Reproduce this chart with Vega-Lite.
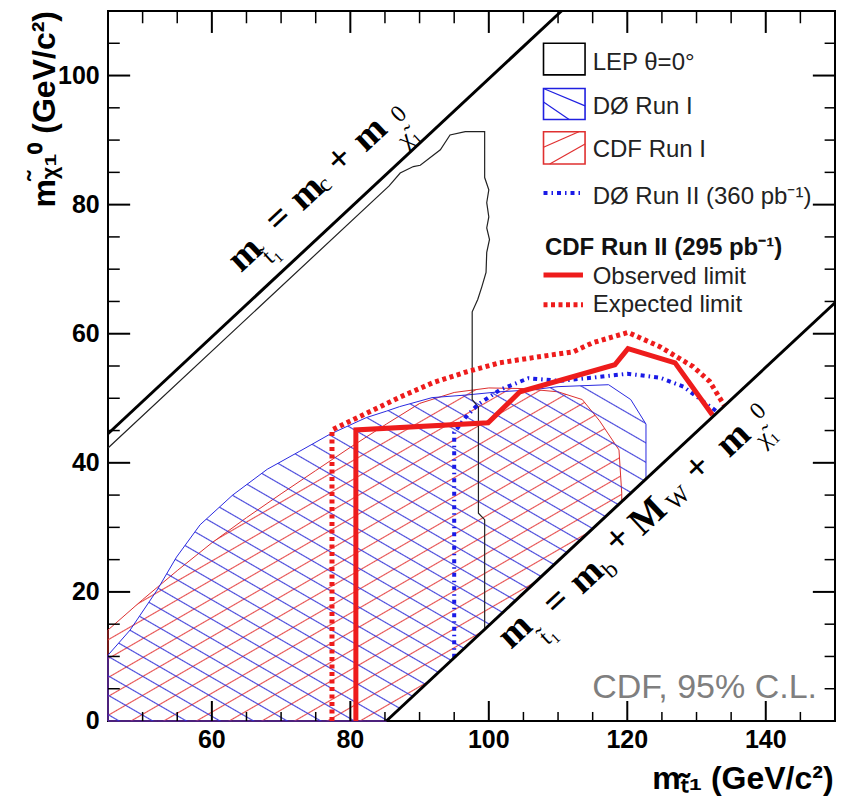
{
  "$schema": "https://vega.github.io/schema/vega-lite/v6.json",
  "width": 727,
  "height": 710,
  "autosize": {"type": "none"},
  "padding": {"left": 108, "top": 11, "right": 8, "bottom": 84},
  "background": "white",
  "config": {
    "view": {"stroke": "#000", "strokeWidth": 2}
  },
  "datasets": {
    "cdfRunI": [
      {"x": 45, "y": 14.1, "y2": 0}, {"x": 50, "y": 18.8, "y2": 0}, {"x": 55, "y": 23.3, "y2": 0},
      {"x": 60, "y": 27.6, "y2": 0}, {"x": 65, "y": 31.5, "y2": 0}, {"x": 70, "y": 35.2, "y2": 0},
      {"x": 75, "y": 38.8, "y2": 0}, {"x": 80, "y": 42.4, "y2": 0}, {"x": 85.2, "y": 46.0, "y2": 0},
      {"x": 90, "y": 49.2, "y2": 4.8}, {"x": 95, "y": 50.9, "y2": 9.8}, {"x": 100, "y": 51.6, "y2": 14.8},
      {"x": 105, "y": 51.5, "y2": 19.8}, {"x": 110, "y": 51.0, "y2": 24.8}, {"x": 113.5, "y": 49.8, "y2": 28.3},
      {"x": 116, "y": 46.5, "y2": 30.8}, {"x": 118.8, "y": 42.0, "y2": 33.6}, {"x": 119.2, "y": 35.3, "y2": 34.0}
    ],
    "d0RunI": [
      {"x": 45, "y": 10.2, "y2": 0}, {"x": 48.2, "y": 14.1, "y2": 0}, {"x": 52.1, "y": 20.3, "y2": 0},
      {"x": 54.9, "y": 25.4, "y2": 0}, {"x": 58.3, "y": 30.4, "y2": 0}, {"x": 63, "y": 35.0, "y2": 0},
      {"x": 68, "y": 39.0, "y2": 0}, {"x": 72.7, "y": 41.8, "y2": 0}, {"x": 77, "y": 44.4, "y2": 0},
      {"x": 82.3, "y": 47.0, "y2": 0}, {"x": 85.2, "y": 48.0, "y2": 0}, {"x": 87.1, "y": 48.7, "y2": 1.9},
      {"x": 91.8, "y": 50.1, "y2": 6.6}, {"x": 96.7, "y": 50.5, "y2": 11.5}, {"x": 101.5, "y": 51.0, "y2": 16.3},
      {"x": 106.2, "y": 51.3, "y2": 21.0}, {"x": 110, "y": 51.8, "y2": 24.8}, {"x": 117.3, "y": 52.1, "y2": 32.1},
      {"x": 120.5, "y": 49.8, "y2": 35.3}, {"x": 122.7, "y": 46.0, "y2": 37.5}
    ],
    "lep": [
      {"x": 45, "y": 42.3}, {"x": 85.6, "y": 82.9}, {"x": 87.2, "y": 84.9}, {"x": 89.1, "y": 85.9},
      {"x": 90.1, "y": 86.1}, {"x": 93.0, "y": 88.5}, {"x": 94.4, "y": 90.8}, {"x": 96.6, "y": 91.3},
      {"x": 99.4, "y": 91.3}, {"x": 99.4, "y": 84.2}, {"x": 100.0, "y": 82.3}, {"x": 99.7, "y": 80.3},
      {"x": 100.0, "y": 78.1}, {"x": 99.7, "y": 76.4}, {"x": 100.1, "y": 74.6}, {"x": 99.7, "y": 72.6},
      {"x": 99.6, "y": 69.5}, {"x": 99.0, "y": 67.3}, {"x": 98.4, "y": 65.3}, {"x": 97.6, "y": 63.4},
      {"x": 97.6, "y": 49.8}, {"x": 98.5, "y": 48.6}, {"x": 98.5, "y": 32.2}, {"x": 99.4, "y": 31.2},
      {"x": 99.4, "y": 14.2}
    ],
    "d0RunII": [
      {"x": 95.0, "y": 9.8}, {"x": 95.0, "y": 44.7}, {"x": 96.6, "y": 47.0}, {"x": 98.4, "y": 49.0},
      {"x": 101.6, "y": 51.3}, {"x": 105.7, "y": 53.1}, {"x": 110.3, "y": 52.7}, {"x": 115.0, "y": 53.2},
      {"x": 120.0, "y": 53.8}, {"x": 124.7, "y": 53.2}, {"x": 128.1, "y": 51.8}, {"x": 130.6, "y": 49.8},
      {"x": 133.0, "y": 47.9}
    ],
    "expected": [
      {"x": 77.35, "y": 0}, {"x": 77.35, "y": 45.1}, {"x": 82.4, "y": 47.7}, {"x": 87.2, "y": 50.2},
      {"x": 91.9, "y": 52.4}, {"x": 96.8, "y": 54.1}, {"x": 101.6, "y": 55.5}, {"x": 106.4, "y": 56.3},
      {"x": 112.2, "y": 57.2}, {"x": 115.0, "y": 58.6}, {"x": 120.1, "y": 60.2}, {"x": 124.7, "y": 58.0},
      {"x": 129.5, "y": 54.9}, {"x": 131.9, "y": 52.6}, {"x": 134.0, "y": 48.9}
    ],
    "observed": [
      {"x": 80.8, "y": 0}, {"x": 80.8, "y": 45.1}, {"x": 99.9, "y": 46.2}, {"x": 104.5, "y": 51.0},
      {"x": 118.2, "y": 55.2}, {"x": 120.1, "y": 57.7}, {"x": 126.9, "y": 55.5}, {"x": 132.3, "y": 47.4}
    ],
    "kinematic": [
      {"x": 45, "y": 44.5, "x2": 110.5, "y2": 110},
      {"x": 85.2, "y": 0, "x2": 150, "y2": 64.8}
    ],
    "xMajorTicks": [{"x": 60}, {"x": 80}, {"x": 100}, {"x": 120}, {"x": 140}],
    "xMinorTicks": [
      {"x": 50}, {"x": 55}, {"x": 65}, {"x": 70}, {"x": 75}, {"x": 85}, {"x": 90}, {"x": 95},
      {"x": 105}, {"x": 110}, {"x": 115}, {"x": 125}, {"x": 130}, {"x": 135}, {"x": 145}
    ],
    "yMajorTicks": [{"y": 20}, {"y": 40}, {"y": 60}, {"y": 80}, {"y": 100}],
    "yMinorTicks": [
      {"y": 5}, {"y": 10}, {"y": 15}, {"y": 25}, {"y": 30}, {"y": 35}, {"y": 45}, {"y": 50},
      {"y": 55}, {"y": 65}, {"y": 70}, {"y": 75}, {"y": 85}, {"y": 90}, {"y": 95}, {"y": 105}
    ],
    "xTickLabels": [
      {"x": 60, "y": -1.1, "t": "60"}, {"x": 80, "y": -1.1, "t": "80"}, {"x": 100, "y": -1.1, "t": "100"},
      {"x": 120, "y": -1.1, "t": "120"}, {"x": 140, "y": -1.1, "t": "140"}
    ],
    "yTickLabels": [
      {"x": 43.8, "y": 0, "t": "0"}, {"x": 43.8, "y": 20, "t": "20"}, {"x": 43.8, "y": 40, "t": "40"},
      {"x": 43.8, "y": 60, "t": "60"}, {"x": 43.8, "y": 80, "t": "80"}, {"x": 43.8, "y": 100, "t": "100"}
    ],
    "xTitle": [{"x": 149.8, "y": -10.6, "t": "mₜ̃₁ (GeV/c²)"}],
    "yTitle": [{"x": 37.4, "y": 110, "t": "mᵪ̃₁⁰ (GeV/c²)"}],
    "formulaMain": [
      {"x": 64.8, "y": 72.3, "t": "m"}, {"x": 69.7, "y": 77.8, "t": "="}, {"x": 73.7, "y": 81.8, "t": "m"},
      {"x": 78.5, "y": 87.0, "t": "+"}, {"x": 82.8, "y": 90.9, "t": "m"},
      {"x": 103.8, "y": 13.9, "t": "m"}, {"x": 109.8, "y": 18.5, "t": "="}, {"x": 114.1, "y": 22.4, "t": "m"},
      {"x": 118.7, "y": 28.1, "t": "+"}, {"x": 123.0, "y": 31.7, "t": "M"}, {"x": 130.2, "y": 39.2, "t": "+"},
      {"x": 135.3, "y": 43.6, "t": "m"}
    ],
    "formulaSub": [
      {"x": 68.6, "y": 72.3, "t": "t̃₁"}, {"x": 76.3, "y": 83.1, "t": "c"}, {"x": 88.4, "y": 90.5, "t": "χ̃₁"},
      {"x": 87.0, "y": 94.0, "t": "0"},
      {"x": 108.6, "y": 13.3, "t": "t̃₁"}, {"x": 117.6, "y": 23.4, "t": "b"}, {"x": 127.4, "y": 34.5, "t": "W"},
      {"x": 140.1, "y": 44.1, "t": "χ̃₁"}, {"x": 138.9, "y": 48.0, "t": "0"}
    ],
    "note": [{"x": 147.4, "y": 3.6, "t": "CDF, 95% C.L."}],
    "legendBoxes": [
      {"x": 107.9, "y": 100.1, "x2": 113.9, "y2": 105.0, "s": "LEP"},
      {"x": 107.9, "y": 93.2, "x2": 113.9, "y2": 98.0, "s": "D0"},
      {"x": 107.9, "y": 86.3, "x2": 113.9, "y2": 91.3, "s": "CDF"}
    ],
    "legendHatch": [
      {"x": 107.9, "y": 98.0, "x2": 113.9, "y2": 95.3, "s": "D0"},
      {"x": 107.9, "y": 95.9, "x2": 111.6, "y2": 93.2, "s": "D0"},
      {"x": 107.9, "y": 88.9, "x2": 113.0, "y2": 91.3, "s": "CDF"},
      {"x": 108.8, "y": 86.3, "x2": 113.9, "y2": 89.4, "s": "CDF"}
    ],
    "legendLines": [
      {"x": 107.9, "x2": 113.6, "y": 81.8, "s": "d0II"},
      {"x": 107.9, "x2": 113.6, "y": 69.1, "s": "obs"},
      {"x": 107.9, "x2": 113.6, "y": 64.5, "s": "exp"}
    ],
    "legendText": [
      {"x": 115.0, "y": 101.9, "t": "LEP θ=0°"},
      {"x": 115.0, "y": 95.2, "t": "DØ Run I"},
      {"x": 115.0, "y": 88.5, "t": "CDF Run I"},
      {"x": 115.0, "y": 81.2, "t": "DØ Run II (360 pb⁻¹)"},
      {"x": 115.0, "y": 68.8, "t": "Observed limit"},
      {"x": 115.0, "y": 64.5, "t": "Expected limit"}
    ],
    "legendHeader": [{"x": 108.1, "y": 73.3, "t": "CDF Run II (295 pb⁻¹)"}]
  },
  "layer": [
    {
      "data": {"name": "cdfRunI"},
      "mark": {
        "type": "area",
        "stroke": "#dd3030",
        "strokeWidth": 1,
        "fill": {
          "gradient": "linear", "x1": 0, "y1": 0, "x2": 0.9391, "y2": 1.0542,
          "stops": [
            {"offset": 0.008, "color": "rgba(228,60,60,0)"}, {"offset": 0.010, "color": "rgba(228,60,60,0.9)"}, {"offset": 0.012, "color": "rgba(228,60,60,0)"},
            {"offset": 0.038, "color": "rgba(228,60,60,0)"}, {"offset": 0.040, "color": "rgba(228,60,60,0.9)"}, {"offset": 0.042, "color": "rgba(228,60,60,0)"},
            {"offset": 0.068, "color": "rgba(228,60,60,0)"}, {"offset": 0.070, "color": "rgba(228,60,60,0.9)"}, {"offset": 0.072, "color": "rgba(228,60,60,0)"},
            {"offset": 0.098, "color": "rgba(228,60,60,0)"}, {"offset": 0.100, "color": "rgba(228,60,60,0.9)"}, {"offset": 0.102, "color": "rgba(228,60,60,0)"},
            {"offset": 0.128, "color": "rgba(228,60,60,0)"}, {"offset": 0.130, "color": "rgba(228,60,60,0.9)"}, {"offset": 0.132, "color": "rgba(228,60,60,0)"},
            {"offset": 0.158, "color": "rgba(228,60,60,0)"}, {"offset": 0.160, "color": "rgba(228,60,60,0.9)"}, {"offset": 0.162, "color": "rgba(228,60,60,0)"},
            {"offset": 0.188, "color": "rgba(228,60,60,0)"}, {"offset": 0.190, "color": "rgba(228,60,60,0.9)"}, {"offset": 0.192, "color": "rgba(228,60,60,0)"},
            {"offset": 0.218, "color": "rgba(228,60,60,0)"}, {"offset": 0.220, "color": "rgba(228,60,60,0.9)"}, {"offset": 0.222, "color": "rgba(228,60,60,0)"},
            {"offset": 0.248, "color": "rgba(228,60,60,0)"}, {"offset": 0.250, "color": "rgba(228,60,60,0.9)"}, {"offset": 0.252, "color": "rgba(228,60,60,0)"},
            {"offset": 0.278, "color": "rgba(228,60,60,0)"}, {"offset": 0.280, "color": "rgba(228,60,60,0.9)"}, {"offset": 0.282, "color": "rgba(228,60,60,0)"},
            {"offset": 0.308, "color": "rgba(228,60,60,0)"}, {"offset": 0.310, "color": "rgba(228,60,60,0.9)"}, {"offset": 0.312, "color": "rgba(228,60,60,0)"},
            {"offset": 0.338, "color": "rgba(228,60,60,0)"}, {"offset": 0.340, "color": "rgba(228,60,60,0.9)"}, {"offset": 0.342, "color": "rgba(228,60,60,0)"},
            {"offset": 0.368, "color": "rgba(228,60,60,0)"}, {"offset": 0.370, "color": "rgba(228,60,60,0.9)"}, {"offset": 0.372, "color": "rgba(228,60,60,0)"},
            {"offset": 0.398, "color": "rgba(228,60,60,0)"}, {"offset": 0.400, "color": "rgba(228,60,60,0.9)"}, {"offset": 0.402, "color": "rgba(228,60,60,0)"},
            {"offset": 0.428, "color": "rgba(228,60,60,0)"}, {"offset": 0.430, "color": "rgba(228,60,60,0.9)"}, {"offset": 0.432, "color": "rgba(228,60,60,0)"},
            {"offset": 0.458, "color": "rgba(228,60,60,0)"}, {"offset": 0.460, "color": "rgba(228,60,60,0.9)"}, {"offset": 0.462, "color": "rgba(228,60,60,0)"},
            {"offset": 0.488, "color": "rgba(228,60,60,0)"}, {"offset": 0.490, "color": "rgba(228,60,60,0.9)"}, {"offset": 0.492, "color": "rgba(228,60,60,0)"},
            {"offset": 0.518, "color": "rgba(228,60,60,0)"}, {"offset": 0.520, "color": "rgba(228,60,60,0.9)"}, {"offset": 0.522, "color": "rgba(228,60,60,0)"},
            {"offset": 0.548, "color": "rgba(228,60,60,0)"}, {"offset": 0.550, "color": "rgba(228,60,60,0.9)"}, {"offset": 0.552, "color": "rgba(228,60,60,0)"},
            {"offset": 0.578, "color": "rgba(228,60,60,0)"}, {"offset": 0.580, "color": "rgba(228,60,60,0.9)"}, {"offset": 0.582, "color": "rgba(228,60,60,0)"},
            {"offset": 0.608, "color": "rgba(228,60,60,0)"}, {"offset": 0.610, "color": "rgba(228,60,60,0.9)"}, {"offset": 0.612, "color": "rgba(228,60,60,0)"},
            {"offset": 0.638, "color": "rgba(228,60,60,0)"}, {"offset": 0.640, "color": "rgba(228,60,60,0.9)"}, {"offset": 0.642, "color": "rgba(228,60,60,0)"},
            {"offset": 0.668, "color": "rgba(228,60,60,0)"}, {"offset": 0.670, "color": "rgba(228,60,60,0.9)"}, {"offset": 0.672, "color": "rgba(228,60,60,0)"},
            {"offset": 0.698, "color": "rgba(228,60,60,0)"}, {"offset": 0.700, "color": "rgba(228,60,60,0.9)"}, {"offset": 0.702, "color": "rgba(228,60,60,0)"},
            {"offset": 0.728, "color": "rgba(228,60,60,0)"}, {"offset": 0.730, "color": "rgba(228,60,60,0.9)"}, {"offset": 0.732, "color": "rgba(228,60,60,0)"},
            {"offset": 0.758, "color": "rgba(228,60,60,0)"}, {"offset": 0.760, "color": "rgba(228,60,60,0.9)"}, {"offset": 0.762, "color": "rgba(228,60,60,0)"},
            {"offset": 0.788, "color": "rgba(228,60,60,0)"}, {"offset": 0.790, "color": "rgba(228,60,60,0.9)"}, {"offset": 0.792, "color": "rgba(228,60,60,0)"},
            {"offset": 0.818, "color": "rgba(228,60,60,0)"}, {"offset": 0.820, "color": "rgba(228,60,60,0.9)"}, {"offset": 0.822, "color": "rgba(228,60,60,0)"},
            {"offset": 0.848, "color": "rgba(228,60,60,0)"}, {"offset": 0.850, "color": "rgba(228,60,60,0.9)"}, {"offset": 0.852, "color": "rgba(228,60,60,0)"},
            {"offset": 0.878, "color": "rgba(228,60,60,0)"}, {"offset": 0.880, "color": "rgba(228,60,60,0.9)"}, {"offset": 0.882, "color": "rgba(228,60,60,0)"},
            {"offset": 0.908, "color": "rgba(228,60,60,0)"}, {"offset": 0.910, "color": "rgba(228,60,60,0.9)"}, {"offset": 0.912, "color": "rgba(228,60,60,0)"},
            {"offset": 0.938, "color": "rgba(228,60,60,0)"}, {"offset": 0.940, "color": "rgba(228,60,60,0.9)"}, {"offset": 0.942, "color": "rgba(228,60,60,0)"},
            {"offset": 0.968, "color": "rgba(228,60,60,0)"}, {"offset": 0.970, "color": "rgba(228,60,60,0.9)"}, {"offset": 0.972, "color": "rgba(228,60,60,0)"}
          ]
        }
      },
      "encoding": {
        "x": {"field": "x", "type": "quantitative", "scale": {"domain": [45, 150], "nice": false, "zero": false}, "axis": null},
        "y": {"field": "y", "type": "quantitative", "scale": {"domain": [0, 110], "nice": false, "zero": false}, "axis": null},
        "y2": {"field": "y2"}
      }
    },
    {
      "data": {"name": "d0RunI"},
      "mark": {
        "type": "area",
        "stroke": "#2a2ae0",
        "strokeWidth": 1,
        "fill": {
          "gradient": "linear", "x1": 0, "y1": 1, "x2": 0.9589, "y2": -0.038,
          "stops": [
            {"offset": 0.008, "color": "rgba(50,50,215,0)"}, {"offset": 0.010, "color": "rgba(50,50,215,0.9)"}, {"offset": 0.012, "color": "rgba(50,50,215,0)"},
            {"offset": 0.038, "color": "rgba(50,50,215,0)"}, {"offset": 0.040, "color": "rgba(50,50,215,0.9)"}, {"offset": 0.042, "color": "rgba(50,50,215,0)"},
            {"offset": 0.068, "color": "rgba(50,50,215,0)"}, {"offset": 0.070, "color": "rgba(50,50,215,0.9)"}, {"offset": 0.072, "color": "rgba(50,50,215,0)"},
            {"offset": 0.098, "color": "rgba(50,50,215,0)"}, {"offset": 0.100, "color": "rgba(50,50,215,0.9)"}, {"offset": 0.102, "color": "rgba(50,50,215,0)"},
            {"offset": 0.128, "color": "rgba(50,50,215,0)"}, {"offset": 0.130, "color": "rgba(50,50,215,0.9)"}, {"offset": 0.132, "color": "rgba(50,50,215,0)"},
            {"offset": 0.158, "color": "rgba(50,50,215,0)"}, {"offset": 0.160, "color": "rgba(50,50,215,0.9)"}, {"offset": 0.162, "color": "rgba(50,50,215,0)"},
            {"offset": 0.188, "color": "rgba(50,50,215,0)"}, {"offset": 0.190, "color": "rgba(50,50,215,0.9)"}, {"offset": 0.192, "color": "rgba(50,50,215,0)"},
            {"offset": 0.218, "color": "rgba(50,50,215,0)"}, {"offset": 0.220, "color": "rgba(50,50,215,0.9)"}, {"offset": 0.222, "color": "rgba(50,50,215,0)"},
            {"offset": 0.248, "color": "rgba(50,50,215,0)"}, {"offset": 0.250, "color": "rgba(50,50,215,0.9)"}, {"offset": 0.252, "color": "rgba(50,50,215,0)"},
            {"offset": 0.278, "color": "rgba(50,50,215,0)"}, {"offset": 0.280, "color": "rgba(50,50,215,0.9)"}, {"offset": 0.282, "color": "rgba(50,50,215,0)"},
            {"offset": 0.308, "color": "rgba(50,50,215,0)"}, {"offset": 0.310, "color": "rgba(50,50,215,0.9)"}, {"offset": 0.312, "color": "rgba(50,50,215,0)"},
            {"offset": 0.338, "color": "rgba(50,50,215,0)"}, {"offset": 0.340, "color": "rgba(50,50,215,0.9)"}, {"offset": 0.342, "color": "rgba(50,50,215,0)"},
            {"offset": 0.368, "color": "rgba(50,50,215,0)"}, {"offset": 0.370, "color": "rgba(50,50,215,0.9)"}, {"offset": 0.372, "color": "rgba(50,50,215,0)"},
            {"offset": 0.398, "color": "rgba(50,50,215,0)"}, {"offset": 0.400, "color": "rgba(50,50,215,0.9)"}, {"offset": 0.402, "color": "rgba(50,50,215,0)"},
            {"offset": 0.428, "color": "rgba(50,50,215,0)"}, {"offset": 0.430, "color": "rgba(50,50,215,0.9)"}, {"offset": 0.432, "color": "rgba(50,50,215,0)"},
            {"offset": 0.458, "color": "rgba(50,50,215,0)"}, {"offset": 0.460, "color": "rgba(50,50,215,0.9)"}, {"offset": 0.462, "color": "rgba(50,50,215,0)"},
            {"offset": 0.488, "color": "rgba(50,50,215,0)"}, {"offset": 0.490, "color": "rgba(50,50,215,0.9)"}, {"offset": 0.492, "color": "rgba(50,50,215,0)"},
            {"offset": 0.518, "color": "rgba(50,50,215,0)"}, {"offset": 0.520, "color": "rgba(50,50,215,0.9)"}, {"offset": 0.522, "color": "rgba(50,50,215,0)"},
            {"offset": 0.548, "color": "rgba(50,50,215,0)"}, {"offset": 0.550, "color": "rgba(50,50,215,0.9)"}, {"offset": 0.552, "color": "rgba(50,50,215,0)"},
            {"offset": 0.578, "color": "rgba(50,50,215,0)"}, {"offset": 0.580, "color": "rgba(50,50,215,0.9)"}, {"offset": 0.582, "color": "rgba(50,50,215,0)"},
            {"offset": 0.608, "color": "rgba(50,50,215,0)"}, {"offset": 0.610, "color": "rgba(50,50,215,0.9)"}, {"offset": 0.612, "color": "rgba(50,50,215,0)"},
            {"offset": 0.638, "color": "rgba(50,50,215,0)"}, {"offset": 0.640, "color": "rgba(50,50,215,0.9)"}, {"offset": 0.642, "color": "rgba(50,50,215,0)"},
            {"offset": 0.668, "color": "rgba(50,50,215,0)"}, {"offset": 0.670, "color": "rgba(50,50,215,0.9)"}, {"offset": 0.672, "color": "rgba(50,50,215,0)"},
            {"offset": 0.698, "color": "rgba(50,50,215,0)"}, {"offset": 0.700, "color": "rgba(50,50,215,0.9)"}, {"offset": 0.702, "color": "rgba(50,50,215,0)"},
            {"offset": 0.728, "color": "rgba(50,50,215,0)"}, {"offset": 0.730, "color": "rgba(50,50,215,0.9)"}, {"offset": 0.732, "color": "rgba(50,50,215,0)"},
            {"offset": 0.758, "color": "rgba(50,50,215,0)"}, {"offset": 0.760, "color": "rgba(50,50,215,0.9)"}, {"offset": 0.762, "color": "rgba(50,50,215,0)"},
            {"offset": 0.788, "color": "rgba(50,50,215,0)"}, {"offset": 0.790, "color": "rgba(50,50,215,0.9)"}, {"offset": 0.792, "color": "rgba(50,50,215,0)"},
            {"offset": 0.818, "color": "rgba(50,50,215,0)"}, {"offset": 0.820, "color": "rgba(50,50,215,0.9)"}, {"offset": 0.822, "color": "rgba(50,50,215,0)"},
            {"offset": 0.848, "color": "rgba(50,50,215,0)"}, {"offset": 0.850, "color": "rgba(50,50,215,0.9)"}, {"offset": 0.852, "color": "rgba(50,50,215,0)"},
            {"offset": 0.878, "color": "rgba(50,50,215,0)"}, {"offset": 0.880, "color": "rgba(50,50,215,0.9)"}, {"offset": 0.882, "color": "rgba(50,50,215,0)"},
            {"offset": 0.908, "color": "rgba(50,50,215,0)"}, {"offset": 0.910, "color": "rgba(50,50,215,0.9)"}, {"offset": 0.912, "color": "rgba(50,50,215,0)"},
            {"offset": 0.938, "color": "rgba(50,50,215,0)"}, {"offset": 0.940, "color": "rgba(50,50,215,0.9)"}, {"offset": 0.942, "color": "rgba(50,50,215,0)"},
            {"offset": 0.968, "color": "rgba(50,50,215,0)"}, {"offset": 0.970, "color": "rgba(50,50,215,0.9)"}, {"offset": 0.972, "color": "rgba(50,50,215,0)"}
          ]
        }
      },
      "encoding": {
        "x": {"field": "x", "type": "quantitative", "axis": null},
        "y": {"field": "y", "type": "quantitative", "axis": null},
        "y2": {"field": "y2"}
      }
    },
    {
      "data": {"name": "lep"},
      "mark": {"type": "line", "stroke": "#222", "strokeWidth": 1.2},
      "encoding": {
        "x": {"field": "x", "type": "quantitative", "axis": null},
        "y": {"field": "y", "type": "quantitative", "axis": null},
        "order": {"value": null}
      }
    },
    {
      "data": {"name": "d0RunII"},
      "mark": {"type": "line", "stroke": "#1a1ae6", "strokeWidth": 4, "strokeDash": [4, 4, 1.5, 4]},
      "encoding": {
        "x": {"field": "x", "type": "quantitative", "axis": null},
        "y": {"field": "y", "type": "quantitative", "axis": null},
        "order": {"value": null}
      }
    },
    {
      "data": {"name": "expected"},
      "mark": {"type": "line", "stroke": "#ee1c1c", "strokeWidth": 5, "strokeDash": [4, 3.5]},
      "encoding": {
        "x": {"field": "x", "type": "quantitative", "axis": null},
        "y": {"field": "y", "type": "quantitative", "axis": null},
        "order": {"value": null}
      }
    },
    {
      "data": {"name": "observed"},
      "mark": {"type": "line", "stroke": "#ee1c1c", "strokeWidth": 5, "strokeJoin": "miter"},
      "encoding": {
        "x": {"field": "x", "type": "quantitative", "axis": null},
        "y": {"field": "y", "type": "quantitative", "axis": null},
        "order": {"value": null}
      }
    },
    {
      "data": {"name": "kinematic"},
      "mark": {"type": "rule", "stroke": "#000", "strokeWidth": 3},
      "encoding": {
        "x": {"field": "x", "type": "quantitative", "axis": null},
        "y": {"field": "y", "type": "quantitative", "axis": null},
        "x2": {"field": "x2"},
        "y2": {"field": "y2"}
      }
    },
    {
      "data": {"name": "xMajorTicks"},
      "mark": {"type": "rule", "stroke": "#000", "strokeWidth": 2},
      "encoding": {
        "x": {"field": "x", "type": "quantitative", "axis": null},
        "y": {"datum": 0, "type": "quantitative", "axis": null},
        "y2": {"datum": 3.1}
      }
    },
    {
      "data": {"name": "xMajorTicks"},
      "mark": {"type": "rule", "stroke": "#000", "strokeWidth": 2},
      "encoding": {
        "x": {"field": "x", "type": "quantitative", "axis": null},
        "y": {"datum": 110, "type": "quantitative", "axis": null},
        "y2": {"datum": 106.6}
      }
    },
    {
      "data": {"name": "xMinorTicks"},
      "mark": {"type": "rule", "stroke": "#000", "strokeWidth": 1.5},
      "encoding": {
        "x": {"field": "x", "type": "quantitative", "axis": null},
        "y": {"datum": 0, "type": "quantitative", "axis": null},
        "y2": {"datum": 1.4}
      }
    },
    {
      "data": {"name": "xMinorTicks"},
      "mark": {"type": "rule", "stroke": "#000", "strokeWidth": 1.5},
      "encoding": {
        "x": {"field": "x", "type": "quantitative", "axis": null},
        "y": {"datum": 110, "type": "quantitative", "axis": null},
        "y2": {"datum": 108.1}
      }
    },
    {
      "data": {"name": "yMajorTicks"},
      "mark": {"type": "rule", "stroke": "#000", "strokeWidth": 2},
      "encoding": {
        "y": {"field": "y", "type": "quantitative", "axis": null},
        "x": {"datum": 45, "type": "quantitative", "axis": null},
        "x2": {"datum": 48.2}
      }
    },
    {
      "data": {"name": "yMajorTicks"},
      "mark": {"type": "rule", "stroke": "#000", "strokeWidth": 2},
      "encoding": {
        "y": {"field": "y", "type": "quantitative", "axis": null},
        "x": {"datum": 150, "type": "quantitative", "axis": null},
        "x2": {"datum": 146.8}
      }
    },
    {
      "data": {"name": "yMinorTicks"},
      "mark": {"type": "rule", "stroke": "#000", "strokeWidth": 1.5},
      "encoding": {
        "y": {"field": "y", "type": "quantitative", "axis": null},
        "x": {"datum": 45, "type": "quantitative", "axis": null},
        "x2": {"datum": 46.7}
      }
    },
    {
      "data": {"name": "yMinorTicks"},
      "mark": {"type": "rule", "stroke": "#000", "strokeWidth": 1.5},
      "encoding": {
        "y": {"field": "y", "type": "quantitative", "axis": null},
        "x": {"datum": 150, "type": "quantitative", "axis": null},
        "x2": {"datum": 148.5}
      }
    },
    {
      "data": {"name": "xTickLabels"},
      "mark": {"type": "text", "font": "Liberation Sans", "fontSize": 25, "fontWeight": "bold", "align": "center", "baseline": "top", "color": "#000"},
      "encoding": {
        "x": {"field": "x", "type": "quantitative", "axis": null},
        "y": {"field": "y", "type": "quantitative", "axis": null},
        "text": {"field": "t"}
      }
    },
    {
      "data": {"name": "yTickLabels"},
      "mark": {"type": "text", "font": "Liberation Sans", "fontSize": 25, "fontWeight": "bold", "align": "right", "baseline": "middle", "color": "#000"},
      "encoding": {
        "x": {"field": "x", "type": "quantitative", "axis": null},
        "y": {"field": "y", "type": "quantitative", "axis": null},
        "text": {"field": "t"}
      }
    },
    {
      "data": {"name": "xTitle"},
      "mark": {"type": "text", "font": "Liberation Sans", "fontSize": 32, "fontWeight": "bold", "align": "right", "baseline": "alphabetic", "color": "#000"},
      "encoding": {
        "x": {"field": "x", "type": "quantitative", "axis": null},
        "y": {"field": "y", "type": "quantitative", "axis": null},
        "text": {"field": "t"}
      }
    },
    {
      "data": {"name": "yTitle"},
      "mark": {"type": "text", "font": "Liberation Sans", "fontSize": 32, "fontWeight": "bold", "align": "right", "baseline": "alphabetic", "angle": 270, "color": "#000"},
      "encoding": {
        "x": {"field": "x", "type": "quantitative", "axis": null},
        "y": {"field": "y", "type": "quantitative", "axis": null},
        "text": {"field": "t"}
      }
    },
    {
      "data": {"name": "formulaMain"},
      "mark": {"type": "text", "font": "Liberation Serif", "fontWeight": "bold", "fontSize": 38, "angle": 317, "align": "center", "baseline": "middle", "color": "#000"},
      "encoding": {
        "x": {"field": "x", "type": "quantitative", "axis": null},
        "y": {"field": "y", "type": "quantitative", "axis": null},
        "text": {"field": "t"}
      }
    },
    {
      "data": {"name": "formulaSub"},
      "mark": {"type": "text", "font": "Liberation Serif", "fontSize": 24, "angle": 317, "align": "center", "baseline": "middle", "color": "#000"},
      "encoding": {
        "x": {"field": "x", "type": "quantitative", "axis": null},
        "y": {"field": "y", "type": "quantitative", "axis": null},
        "text": {"field": "t"}
      }
    },
    {
      "data": {"name": "note"},
      "mark": {"type": "text", "font": "Liberation Sans", "fontSize": 34, "align": "right", "baseline": "alphabetic", "color": "#7f7f7f"},
      "encoding": {
        "x": {"field": "x", "type": "quantitative", "axis": null},
        "y": {"field": "y", "type": "quantitative", "axis": null},
        "text": {"field": "t"}
      }
    },
    {
      "data": {"name": "legendBoxes"},
      "mark": {"type": "rect", "fill": "white", "strokeWidth": 1.6},
      "encoding": {
        "x": {"field": "x", "type": "quantitative", "axis": null},
        "y": {"field": "y", "type": "quantitative", "axis": null},
        "x2": {"field": "x2"},
        "y2": {"field": "y2"},
        "stroke": {"field": "s", "type": "nominal", "scale": {"domain": ["LEP", "D0", "CDF"], "range": ["#000000", "#2020e0", "#e03030"]}, "legend": null}
      }
    },
    {
      "data": {"name": "legendHatch"},
      "mark": {"type": "rule", "strokeWidth": 1.2},
      "encoding": {
        "x": {"field": "x", "type": "quantitative", "axis": null},
        "y": {"field": "y", "type": "quantitative", "axis": null},
        "x2": {"field": "x2"},
        "y2": {"field": "y2"},
        "stroke": {"field": "s", "type": "nominal", "scale": {"domain": ["LEP", "D0", "CDF"], "range": ["#000000", "#2020e0", "#e03030"]}, "legend": null}
      }
    },
    {
      "data": {"name": "legendLines"},
      "transform": [{"filter": "datum.s === 'd0II'"}],
      "mark": {"type": "rule", "stroke": "#1a1ae6", "strokeWidth": 4, "strokeDash": [4, 4, 1.5, 4]},
      "encoding": {
        "x": {"field": "x", "type": "quantitative", "axis": null},
        "x2": {"field": "x2"},
        "y": {"field": "y", "type": "quantitative", "axis": null}
      }
    },
    {
      "data": {"name": "legendLines"},
      "transform": [{"filter": "datum.s === 'obs'"}],
      "mark": {"type": "rule", "stroke": "#ee1c1c", "strokeWidth": 5},
      "encoding": {
        "x": {"field": "x", "type": "quantitative", "axis": null},
        "x2": {"field": "x2"},
        "y": {"field": "y", "type": "quantitative", "axis": null}
      }
    },
    {
      "data": {"name": "legendLines"},
      "transform": [{"filter": "datum.s === 'exp'"}],
      "mark": {"type": "rule", "stroke": "#ee1c1c", "strokeWidth": 5, "strokeDash": [4, 3.5]},
      "encoding": {
        "x": {"field": "x", "type": "quantitative", "axis": null},
        "x2": {"field": "x2"},
        "y": {"field": "y", "type": "quantitative", "axis": null}
      }
    },
    {
      "data": {"name": "legendText"},
      "mark": {"type": "text", "font": "Liberation Sans", "fontSize": 24, "align": "left", "baseline": "middle", "color": "#222"},
      "encoding": {
        "x": {"field": "x", "type": "quantitative", "axis": null},
        "y": {"field": "y", "type": "quantitative", "axis": null},
        "text": {"field": "t"}
      }
    },
    {
      "data": {"name": "legendHeader"},
      "mark": {"type": "text", "font": "Liberation Sans", "fontSize": 24, "fontWeight": "bold", "align": "left", "baseline": "middle", "color": "#111"},
      "encoding": {
        "x": {"field": "x", "type": "quantitative", "axis": null},
        "y": {"field": "y", "type": "quantitative", "axis": null},
        "text": {"field": "t"}
      }
    }
  ]
}
